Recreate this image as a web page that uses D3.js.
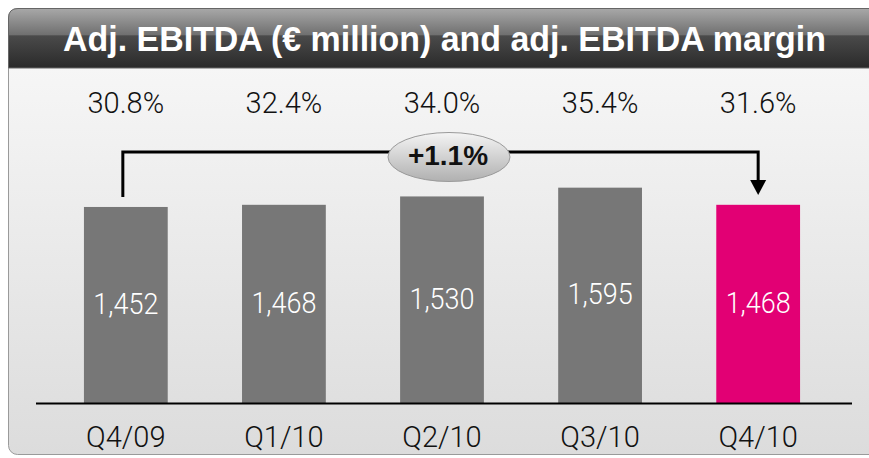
<!DOCTYPE html>
<html>
<head>
<meta charset="utf-8">
<script src="https://cdn.jsdelivr.net/npm/d3@7"></script>
<style>
  body { margin: 0; background: #fff; }
  svg { display: block; font-family: "Liberation Sans", Arial, sans-serif; }
  .thin { font-family: Roboto, "Liberation Sans", sans-serif; font-weight: 300; }
</style>
</head>
<body>
<svg id="chart" width="869" height="458"></svg>
<script>
// quarterly adj. EBITDA
const quarters = ["Q4/09", "Q1/10", "Q2/10", "Q3/10", "Q4/10"];
const ebitda = [1452, 1468, 1530, 1595, 1468];
const margins = ["30.8%", "32.4%", "34.0%", "35.4%", "31.6%"];
const growthLabel = "+1.1%";

const svg = d3.select("#chart");
const defs = svg.append("defs");

let bg = defs.append("linearGradient").attr("id", "bg").attr("x1", 0).attr("y1", 0).attr("x2", 0).attr("y2", 1);
bg.append("stop").attr("offset", "0%").attr("stop-color", "#fafafa");
bg.append("stop").attr("offset", "100%").attr("stop-color", "#dcdcdc");

let head = defs.append("linearGradient").attr("id", "head").attr("x1", 0).attr("y1", 0).attr("x2", 0).attr("y2", 1);
head.append("stop").attr("offset", "0%").attr("stop-color", "#a8a8a8");
head.append("stop").attr("offset", "44%").attr("stop-color", "#707070");
head.append("stop").attr("offset", "46%").attr("stop-color", "#4a4a4a");
head.append("stop").attr("offset", "100%").attr("stop-color", "#2a2a2a");

let pill = defs.append("linearGradient").attr("id", "pill").attr("x1", 0).attr("y1", 0).attr("x2", 0).attr("y2", 1);
pill.append("stop").attr("offset", "0%").attr("stop-color", "#f4f4f4");
pill.append("stop").attr("offset", "100%").attr("stop-color", "#b0b0b0");

// frame (runs off the right edge like the original)
svg.append("rect")
    .attr("x", 8.5).attr("y", 8.5).attr("width", 900).attr("height", 446)
    .attr("rx", 9).attr("fill", "url(#bg)").attr("stroke", "#9a9a9a");

svg.append("path")
    .attr("d", "M8.5,68 V18 Q8.5,8.5 18,8.5 H900 V68 Z")
    .attr("fill", "url(#head)").attr("stroke", "#666");

svg.append("text")
    .attr("x", 63).attr("y", 51)
    .attr("textLength", 763).attr("lengthAdjust", "spacingAndGlyphs")
    .attr("fill", "#fff").attr("font-weight", "bold").attr("font-size", 35)
    .text("Adj. EBITDA (€ million) and adj. EBITDA margin");

const x = d3.scaleBand().domain(quarters).range([46, 838]).paddingInner(0.47).paddingOuter(0.24);
const y = d3.scaleLinear().domain([0, 2985]).range([403, 0]);
const mid = q => x(q) + x.bandwidth() / 2;

svg.selectAll("rect.bar")
    .data(ebitda)
    .join("rect")
    .attr("class", "bar")
    .attr("x", (d, i) => x(quarters[i]))
    .attr("y", d => y(d))
    .attr("width", x.bandwidth())
    .attr("height", d => y(0) - y(d))
    .attr("fill", (d, i) => i == quarters.length - 1 ? "#e20074" : "#777777");

svg.selectAll("text.val")
    .data(ebitda)
    .join("text")
    .attr("class", "val thin")
    .attr("transform", (d, i) => `translate(${mid(quarters[i])},${(y(d) + y(0)) / 2 + 9}) scale(0.9,1)`)
    .attr("text-anchor", "middle")
    .attr("fill", "#fff").attr("font-size", 30)
    .text(d => d3.format(",")(d));

svg.selectAll("text.margin")
    .data(margins)
    .join("text")
    .attr("class", "margin thin")
    .attr("x", (d, i) => mid(quarters[i]))
    .attr("y", 113)
    .attr("text-anchor", "middle")
    .attr("fill", "#111").attr("font-size", 29)
    .text(d => d);

// baseline and category labels
svg.append("line")
    .attr("x1", 36).attr("x2", 852).attr("y1", 403.5).attr("y2", 403.5)
    .attr("stroke", "#000").attr("stroke-width", 2);

svg.selectAll("text.cat")
    .data(quarters)
    .join("text")
    .attr("class", "cat thin")
    .attr("x", d => mid(d))
    .attr("y", 447)
    .attr("text-anchor", "middle")
    .attr("fill", "#111").attr("font-size", 29)
    .text(d => d);

// connector from first to last quarter
const x0 = mid(quarters[0]) - 3;
const x1 = mid(quarters[4]);
svg.append("path")
    .attr("d", `M${x0},197 V152 H${x1} V182`)
    .attr("fill", "none").attr("stroke", "#000").attr("stroke-width", 3);
svg.append("path")
    .attr("d", `M${x1 - 8},180 H${x1 + 8} L${x1},195 Z`)
    .attr("fill", "#000");

svg.append("ellipse")
    .attr("cx", 449).attr("cy", 157).attr("rx", 61).attr("ry", 24.5)
    .attr("fill", "url(#pill)").attr("stroke", "#9a9a9a");
svg.append("text")
    .attr("x", 448).attr("y", 165)
    .attr("text-anchor", "middle")
    .attr("font-weight", "bold").attr("font-size", 28).attr("fill", "#111")
    .text(growthLabel);
</script>
</body>
</html>
